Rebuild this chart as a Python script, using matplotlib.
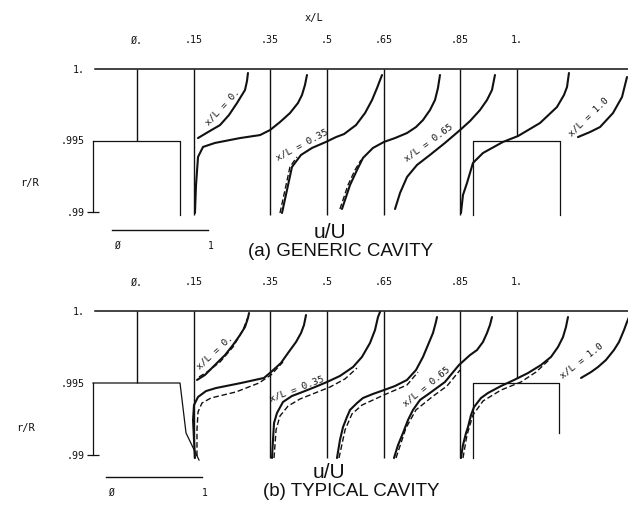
import matplotlib
matplotlib.use("Agg")
import matplotlib.pyplot as plt

W, H, DPI = 628, 505, 100

# ---------------- data ----------------
stations = [0.0, 0.15, 0.35, 0.5, 0.65, 0.85, 1.0]
station_labels = ['Ø.', '.15', '.35', '.5', '.65', '.85', '1.']
r_ticks = [0.99, 0.995, 1.0]
r_tick_labels = ['.99', '.995', '1.']
U_SCALE = 0.2526          # x/L length of u/U = 1 (scale bar)

# (a) generic cavity : solid profiles, one per station
gen_u = [
    [0.635, 0.74, 0.865, 0.958, 1.042, 1.125, 1.146, 1.156],
    [0.010, 0.021, 0.042, 0.094, 0.219, 0.479, 0.688, 0.792, 0.896, 1.0, 1.083, 1.125, 1.156, 1.177],
    [0.125, 0.177, 0.229, 0.323, 0.438, 0.583, 0.688, 0.771, 0.896, 0.990, 1.063, 1.115, 1.167],
    [0.156, 0.240, 0.313, 0.375, 0.479, 0.594, 0.708, 0.833, 0.927, 1.0, 1.073, 1.125, 1.156, 1.177],
    [0.115, 0.167, 0.240, 0.344, 0.479, 0.635, 0.792, 0.896, 1.0, 1.073, 1.125, 1.156],
    [0.010, 0.031, 0.073, 0.135, 0.240, 0.448, 0.604, 0.833, 1.010, 1.083, 1.115, 1.135],
    [0.635, 0.760, 0.865, 1.0, 1.094, 1.146],
]
gen_r = [
    [0.99517, 0.99559, 0.99608, 0.99678, 0.99762, 0.99853, 0.99916, 0.99972],
    [0.98993, 0.99189, 0.99385, 0.99455, 0.99483, 0.99517, 0.99538, 0.99573, 0.99629, 0.99692, 0.99762, 0.99818, 0.99888, 0.99958],
    [0.98993, 0.99154, 0.99315, 0.99399, 0.99448, 0.99490, 0.99524, 0.99545, 0.99608, 0.99692, 0.99783, 0.99867, 0.99958],
    [0.99021, 0.99189, 0.99294, 0.99378, 0.99448, 0.99490, 0.99517, 0.99552, 0.99594, 0.99643, 0.99713, 0.99783, 0.99867, 0.99958],
    [0.99021, 0.99133, 0.99245, 0.99329, 0.99399, 0.99483, 0.99573, 0.99636, 0.99713, 0.99783, 0.99853, 0.99958],
    [0.98993, 0.99119, 0.99203, 0.99343, 0.99413, 0.99490, 0.99531, 0.99622, 0.99734, 0.99818, 0.99874, 0.99972],
    [0.99524, 0.99559, 0.99594, 0.99692, 0.99804, 0.99944],
]
# (a) dashed profiles
gen_dash_station = [0.35, 0.5]
gen_dash_u = [[0.104, 0.156, 0.208, 0.281], [0.135, 0.219, 0.292, 0.354]]
gen_dash_r = [[0.98993, 0.99154, 0.99315, 0.99385], [0.99021, 0.99189, 0.99294, 0.99364]]

# (b) typical cavity : solid profiles
typ_u = [
    [0.625, 0.708, 0.833, 0.917, 1.0, 1.073, 1.125, 1.156, 1.167],
    [0.010, 0.0, -0.010, 0.0, 0.042, 0.125, 0.229, 0.490, 0.729, 0.802, 0.906, 0.979, 1.063, 1.115, 1.146, 1.167],
    [0.021, 0.031, 0.042, 0.073, 0.135, 0.229, 0.313, 0.469, 0.594, 0.729, 0.865, 0.958, 1.042, 1.094, 1.125, 1.146],
    [0.104, 0.135, 0.167, 0.208, 0.240, 0.313, 0.375, 0.479, 0.594, 0.708, 0.833, 0.927, 1.0, 1.052, 1.104, 1.135, 1.146],
    [0.104, 0.146, 0.198, 0.25, 0.302, 0.375, 0.479, 0.635, 0.781, 0.896, 0.969, 1.031, 1.073, 1.104, 1.125],
    [0.010, 0.031, 0.063, 0.083, 0.115, 0.146, 0.219, 0.292, 0.427, 0.563, 0.708, 0.844, 0.948, 1.021, 1.073, 1.104, 1.125],
    [0.667, 0.771, 0.844, 0.927, 1.010, 1.063, 1.115, 1.146, 1.167],
]
typ_r = [
    [0.99521, 0.99556, 0.99639, 0.99694, 0.99764, 0.99833, 0.99889, 0.99951, 0.99986],
    [0.98979, 0.99104, 0.99243, 0.99347, 0.99403, 0.99444, 0.99465, 0.99500, 0.99535, 0.99576, 0.99639, 0.99708, 0.99785, 0.99847, 0.99903, 0.99972],
    [0.98979, 0.99104, 0.99222, 0.99292, 0.99368, 0.99410, 0.99431, 0.99472, 0.99507, 0.99549, 0.99611, 0.99681, 0.99778, 0.99868, 0.99958, 0.99993],
    [0.98979, 0.99104, 0.99194, 0.99264, 0.99313, 0.99361, 0.99396, 0.99424, 0.99451, 0.99479, 0.99521, 0.99590, 0.99681, 0.99764, 0.99847, 0.99924, 0.99958],
    [0.98979, 0.99069, 0.99153, 0.99243, 0.99313, 0.99382, 0.99431, 0.99507, 0.99625, 0.99694, 0.99729, 0.99785, 0.99847, 0.99903, 0.99958],
    [0.98979, 0.99069, 0.99153, 0.99194, 0.99278, 0.99333, 0.99396, 0.99431, 0.99479, 0.99521, 0.99569, 0.99625, 0.99681, 0.99750, 0.99819, 0.99889, 0.99958],
    [0.99535, 0.99576, 0.99611, 0.99660, 0.99729, 0.99785, 0.99868, 0.99924, 0.99958],
]
# (b) dashed profiles
typ_dash_station = [0.0, 0.15, 0.35, 0.5, 0.65, 0.85]
typ_dash_u = [
    [0.646, 0.729, 0.865, 1.0, 1.104, 1.156],
    [0.031, 0.031, 0.042, 0.083, 0.177, 0.438, 0.677, 0.802, 0.927],
    [0.042, 0.063, 0.104, 0.188, 0.313, 0.625, 0.781, 0.906],
    [0.125, 0.188, 0.260, 0.365, 0.594, 0.833, 0.948],
    [0.125, 0.229, 0.333, 0.5, 0.656, 0.792],
    [0.031, 0.073, 0.135, 0.240, 0.427, 0.635, 0.792, 0.927],
]
typ_dash_r = [
    [0.99542, 0.99576, 0.99646, 0.99750, 0.99868, 0.99958],
    [0.98993, 0.99174, 0.99299, 0.99361, 0.99396, 0.99438, 0.99500, 0.99556, 0.99646],
    [0.98979, 0.99174, 0.99271, 0.99340, 0.99389, 0.99472, 0.99528, 0.99604],
    [0.98979, 0.99174, 0.99285, 0.99347, 0.99417, 0.99486, 0.99576],
    [0.98979, 0.99188, 0.99313, 0.99403, 0.99479, 0.99590],
    [0.98979, 0.99139, 0.99278, 0.99375, 0.99451, 0.99507, 0.99576, 0.99660],
]

# wall outlines (x/L, r/R)
gen_wall_left_x = [-0.1158, 0.1132, 0.1132]
gen_wall_left_r = [0.995, 0.995, 0.9898]
gen_wall_right_x = [0.8842, 0.8842, 1.1132, 1.1132]
gen_wall_right_r = [0.9898, 0.995, 0.995, 0.9898]
gen_station_bottom = [0.995, 0.9898, 0.9898, 0.9898, 0.9898, 0.9898, 0.9953]

typ_wall_left_x = [-0.1158, 0.1132, 0.1290, 0.1632]
typ_wall_left_r = [0.995, 0.995, 0.99153, 0.98965]
typ_wall_right_x = [0.8842, 0.8842, 1.1105, 1.1105]
typ_wall_right_r = [0.9898, 0.995, 0.995, 0.99153]
typ_station_bottom = [0.995, 0.9898, 0.9898, 0.9898, 0.9898, 0.9898, 0.99535]

curve_labels = ['x/L = 0.', 'x/L = 0.35', 'x/L = 0.65', 'x/L = 1.0']

# ---------------- layout ----------------
X0_PX, PX_PER_XL = 137, 380.0
XLIM = ((0 - X0_PX) / PX_PER_XL, (W - X0_PX) / PX_PER_XL)
MONO = 'DejaVu Sans Mono'
SANS = ['Liberation Sans', 'DejaVu Sans']
INK = '#111111'

fig = plt.figure(figsize=(W / DPI, H / DPI), dpi=DPI)
fig.patch.set_facecolor('white')


def fx(px):
    return px / W


def fy(py):
    return 1 - py / H


def make_panel(top_px, bot_px, u_list, r_list, d_st, d_u, d_r,
               wl_x, wl_r, wr_x, wr_r, st_bottom, lab_pos, bar, rR_pos, xlabel):
    ax = fig.add_axes([0, fy(bot_px), 1, (bot_px - top_px) / H])
    ax.set_xlim(*XLIM)
    ax.set_ylim(0.99, 1.0)
    ax.patch.set_alpha(0)
    for s in ['top', 'right', 'bottom']:
        ax.spines[s].set_visible(False)
    ax.spines['left'].set_position(('data', -0.1158))
    ax.spines['left'].set_bounds(0.99, 0.995)
    ax.spines['left'].set_linewidth(0.9)
    ax.spines['left'].set_color(INK)
    ax.yaxis.remove_overlapping_locs = False
    ax.set_yticks(r_ticks)
    ax.set_yticklabels(r_tick_labels, fontfamily=MONO, fontsize=7.2)
    ax.set_yticks([0.99], minor=True)
    ax.tick_params(axis='y', which='major', length=0, pad=6, colors=INK)
    ax.tick_params(axis='y', which='minor', length=8, direction='inout', width=0.9, color=INK)
    ax.xaxis.tick_top()
    ax.set_xticks(stations)
    ax.set_xticklabels(station_labels, fontfamily=MONO, fontsize=7.2)
    ax.tick_params(axis='x', length=0, pad=17, colors=INK)
    if xlabel:
        ax.xaxis.set_label_position('top')
        ax.set_xlabel('x/L', fontfamily=MONO, fontsize=7.5, labelpad=10, color=INK)

    kw = dict(color=INK, clip_on=False)
    # wall line r/R = 1 and outlines
    ax.plot([-0.1105, XLIM[1]], [1.0, 1.0], lw=1.1, **kw)
    ax.plot(wl_x, wl_r, lw=0.9, **kw)
    ax.plot(wr_x, wr_r, lw=0.9, **kw)
    ax.vlines(stations, st_bottom, 1.0, lw=1.0, **kw)
    # profiles
    for st, u, r in zip(stations, u_list, r_list):
        ax.plot([st + U_SCALE * v for v in u], r, lw=1.5, solid_capstyle='round',
                solid_joinstyle='round', **kw)
    for st, u, r in zip(d_st, d_u, d_r):
        ax.plot([st + U_SCALE * v for v in u], r, lw=1.0, ls=(0, (4, 2)), **kw)
    # curve labels
    for txt, (x, r, ang) in zip(curve_labels, lab_pos):
        ax.text(x, r, txt, rotation=ang, rotation_mode='anchor', ha='center', va='center',
                fontfamily=MONO, fontsize=6.8, color=INK)
    # scale bar
    bx, br, lr = bar
    ax.plot([bx, bx + U_SCALE], [br, br], lw=1.0, **kw)
    ax.text(bx + 0.013, lr, 'Ø', ha='center', va='center', fontfamily=MONO, fontsize=7, color=INK)
    ax.text(bx + U_SCALE + 0.008, lr, '1', ha='center', va='center', fontfamily=MONO, fontsize=7, color=INK)
    ax.text(rR_pos[0], rR_pos[1], 'r/R', ha='center', va='center', fontfamily=MONO, fontsize=7.5, color=INK)
    return ax


make_panel(69, 212, gen_u, gen_r, gen_dash_station, gen_dash_u, gen_dash_r,
           gen_wall_left_x, gen_wall_left_r, gen_wall_right_x, gen_wall_right_r, gen_station_bottom,
           [(0.2237, 0.99734, 47), (0.4342, 0.99469, 28), (0.7658, 0.99483, 36), (1.1895, 0.99664, 44)],
           (-0.0658, 0.98874, 0.98762), (-0.2816, 0.99203), True)

make_panel(311, 455, typ_u, typ_r, typ_dash_station, typ_dash_u, typ_dash_r,
           typ_wall_left_x, typ_wall_left_r, typ_wall_right_x, typ_wall_right_r, typ_station_bottom,
           [(0.2053, 0.99715, 43), (0.4211, 0.99458, 21), (0.7605, 0.99472, 39), (1.1711, 0.99653, 38)],
           (-0.0816, 0.98847, 0.98736), (-0.2947, 0.99188), False)

fig.text(fx(330), fy(232), 'u/U', ha='center', va='center', fontfamily=SANS, fontsize=15, color=INK)
fig.text(fx(341), fy(251), '(a) GENERIC CAVITY', ha='center', va='center', fontfamily=SANS, fontsize=13.5, color=INK)
fig.text(fx(329), fy(473), 'u/U', ha='center', va='center', fontfamily=SANS, fontsize=15, color=INK)
fig.text(fx(351), fy(492), '(b) TYPICAL CAVITY', ha='center', va='center', fontfamily=SANS, fontsize=13.5, color=INK)

fig.savefig('out.png', dpi=DPI, facecolor='white')
